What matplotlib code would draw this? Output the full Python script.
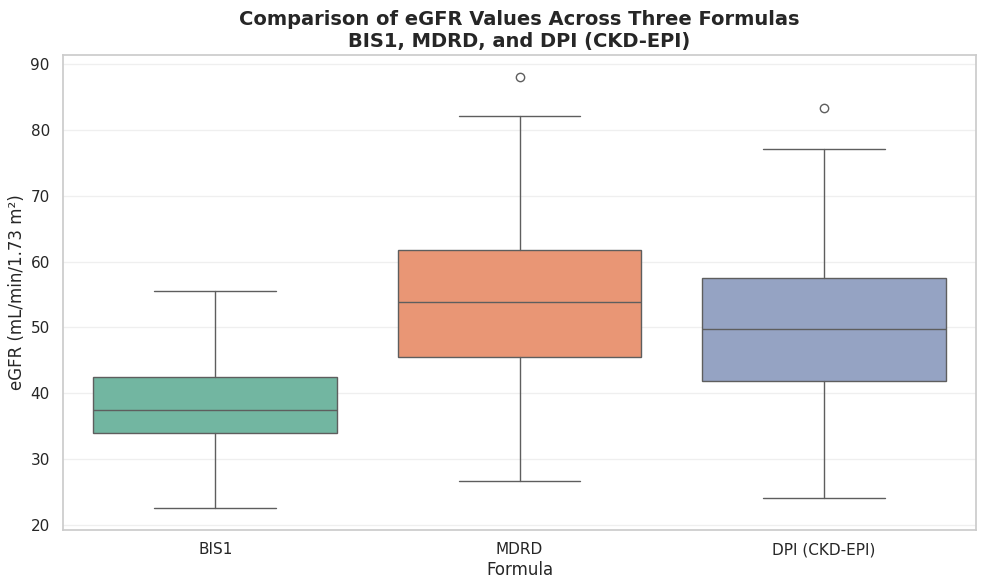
import numpy as np
import matplotlib
matplotlib.use("Agg")
import matplotlib.pyplot as plt
import seaborn as sns

# box statistics
formulas = ["BIS1", "MDRD", "DPI (CKD-EPI)"]
whislo = [22.5, 26.7, 24.1]
q1 = [33.9, 45.5, 41.9]
med = [37.4, 53.8, 49.7]
q3 = [42.5, 61.8, 57.5]
whishi = [55.6, 82.1, 77.1]
fliers = [[], [88.1], [83.4]]

sns.set_theme(style="whitegrid")
colors = sns.color_palette("Set2", 3, desat=0.75)
line_col = "#5e5e5e"

stats = []
for i, name in enumerate(formulas):
    stats.append(dict(label=name, whislo=whislo[i], q1=q1[i], med=med[i],
                      q3=q3[i], whishi=whishi[i], fliers=fliers[i]))

fig, ax = plt.subplots(figsize=(9.85, 5.88), dpi=100)
xpos = np.arange(len(formulas))
bp = ax.bxp(stats, positions=xpos, widths=0.8, patch_artist=True,
            boxprops=dict(edgecolor=line_col, linewidth=1.0),
            medianprops=dict(color=line_col, linewidth=1.0),
            whiskerprops=dict(color=line_col, linewidth=1.0),
            capprops=dict(color=line_col, linewidth=1.0),
            flierprops=dict(marker="o", markerfacecolor="none",
                            markeredgecolor=line_col, markersize=6,
                            markeredgewidth=1.0),
            capwidths=0.4)
for patch, c in zip(bp["boxes"], colors):
    patch.set_facecolor(c)

ax.set_xlim(-0.5, 2.5)
ax.set_xticks(xpos)
ax.set_xticklabels(formulas, fontsize=11)
ax.tick_params(axis="x", pad=3)
ax.tick_params(axis="y", labelsize=11)
ax.xaxis.grid(False)
ax.yaxis.grid(True, alpha=0.3)
for sp in ax.spines.values():
    sp.set_color("0.8")

ax.set_title("Comparison of eGFR Values Across Three Formulas\nBIS1, MDRD, and DPI (CKD-EPI)",
             fontsize=14, fontweight="bold")
ax.set_xlabel("Formula", fontsize=12, labelpad=3)
ax.set_ylabel("eGFR (mL/min/1.73 m²)", fontsize=12, labelpad=3)

plt.subplots_adjust(left=0.064, right=0.991, top=0.906, bottom=0.099)
plt.savefig("out.png", dpi=100)
